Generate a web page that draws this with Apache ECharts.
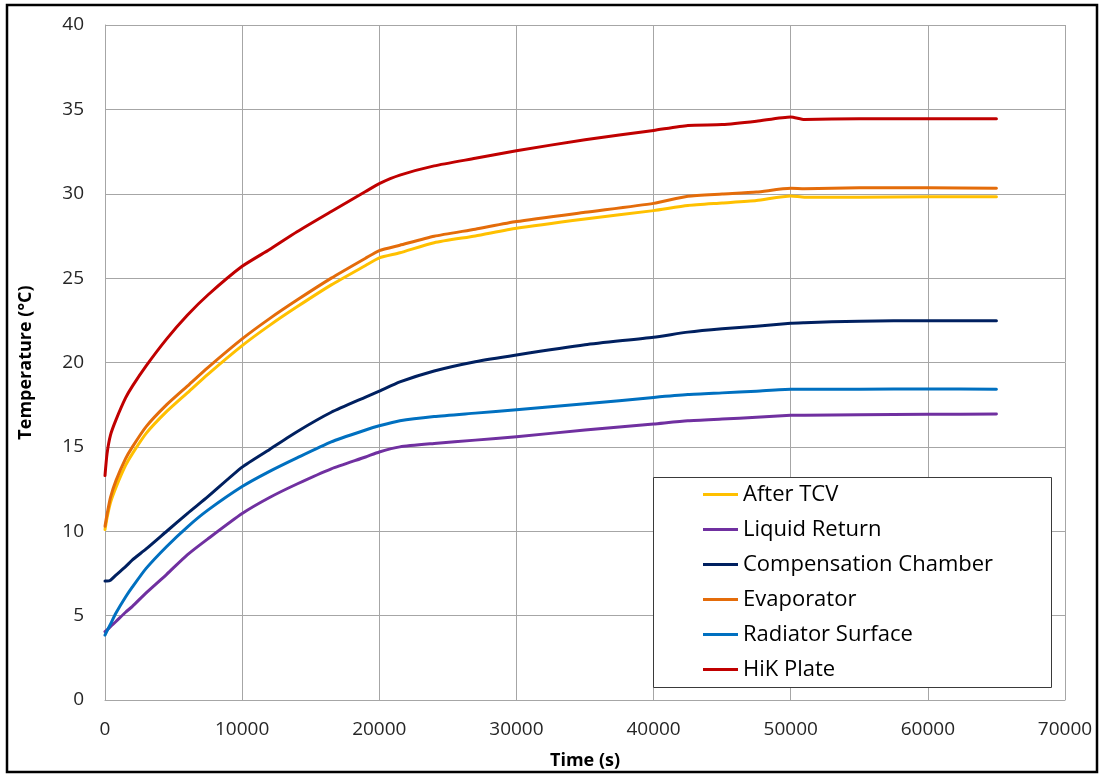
<!DOCTYPE html>
<html>
<head>
<meta charset="utf-8">
<script src="https://cdn.jsdelivr.net/npm/echarts@6/dist/echarts.min.js"></script>
<style>
  html, body { margin: 0; padding: 0; background: #ffffff; }
  #chart { width: 1104px; height: 777px; }
</style>
</head>
<body>
<div id="chart"></div>
<script>
// Elapsed time of each sample (s)
const timeS = [0, 150, 400, 800, 1500, 2000, 3000, 4500, 6000, 7500,
  10000, 12000, 14000, 16500, 19000, 20000, 21500, 24000, 27000, 30000,
  35000, 40000, 42500, 45000, 47500, 50000, 51000, 55000, 60000, 65000];

// Temperatures (°C) at the sample times
const afterTCV = [10.1, 10.8, 11.7, 12.6, 13.9, 14.6, 15.8, 17.1, 18.2, 19.3,
  21.0, 22.2, 23.3, 24.6, 25.75, 26.2, 26.5, 27.1, 27.5, 27.95,
  28.5, 29.0, 29.3, 29.45, 29.6, 29.87, 29.8, 29.8, 29.82, 29.82];
const liquidReturn = [4.05, 4.15, 4.35, 4.65, 5.2, 5.55, 6.35, 7.45, 8.6, 9.55,
  11.05, 12.0, 12.8, 13.7, 14.4, 14.7, 15.0, 15.2, 15.4, 15.6,
  16.0, 16.36, 16.55, 16.65, 16.75, 16.87, 16.88, 16.9, 16.93, 16.95];
const compChamber = [7.05, 7.05, 7.1, 7.4, 7.9, 8.3, 8.95, 10.0, 11.05, 12.05,
  13.8, 14.85, 15.9, 17.05, 17.95, 18.3, 18.85, 19.5, 20.05, 20.45,
  21.05, 21.5, 21.8, 22.0, 22.15, 22.33, 22.36, 22.45, 22.48, 22.48];
const evaporator = [10.3, 11.0, 12.0, 13.0, 14.3, 15.0, 16.2, 17.5, 18.6, 19.7,
  21.4, 22.6, 23.7, 25.0, 26.18, 26.63, 26.95, 27.48, 27.9, 28.35,
  28.9, 29.43, 29.85, 29.98, 30.1, 30.32, 30.3, 30.35, 30.35, 30.32];
const radiatorSurface = [3.85, 4.1, 4.5, 5.15, 6.1, 6.7, 7.8, 9.1, 10.25, 11.25,
  12.65, 13.55, 14.35, 15.3, 16.0, 16.25, 16.55, 16.8, 17.0, 17.2,
  17.55, 17.93, 18.1, 18.2, 18.3, 18.42, 18.42, 18.42, 18.43, 18.42];
const hikPlate = [13.3, 14.6, 15.7, 16.6, 17.9, 18.6, 19.8, 21.4, 22.8, 24.0,
  25.7, 26.7, 27.75, 28.95, 30.13, 30.6, 31.1, 31.65, 32.1, 32.55,
  33.2, 33.75, 34.05, 34.1, 34.3, 34.55, 34.4, 34.45, 34.45, 34.45];

const seriesNames = ['After TCV', 'Liquid Return', 'Compensation Chamber',
  'Evaporator', 'Radiator Surface', 'HiK Plate'];
const seriesValues = [afterTCV, liquidReturn, compChamber, evaporator, radiatorSurface, hikPlate];
const seriesColors = ['#FFC000', '#7030A0', '#002060', '#E46C0A', '#0070C0', '#C00000'];

const FONT = '"Open Sans", "Noto Sans", sans-serif';
const GRID_COLOR = '#a6a6a6';

const chart = echarts.init(document.getElementById('chart'), null, { renderer: 'canvas' });

chart.setOption({
  animation: false,
  backgroundColor: '#ffffff',
  textStyle: { fontFamily: FONT },
  grid: { left: 105, right: 39, top: 25, bottom: 77, containLabel: false },
  xAxis: {
    type: 'value',
    min: 0, max: 70000, interval: 10000,
    name: 'Time (s)',
    nameLocation: 'middle',
    nameGap: 52,
    nameTextStyle: { fontFamily: FONT, fontSize: 18, fontWeight: 'bold', color: '#000000' },
    axisLine: { show: true, lineStyle: { color: GRID_COLOR, width: 1 } },
    axisTick: { show: false },
    axisLabel: { fontFamily: FONT, fontSize: 19, color: '#262626', margin: 20,
      formatter: (v) => String(v) },
    splitLine: { show: true, lineStyle: { color: GRID_COLOR, width: 1 } }
  },
  yAxis: {
    type: 'value',
    min: 0, max: 40, interval: 5,
    name: 'Temperature (°C)',
    nameLocation: 'middle',
    nameGap: 70,
    nameTextStyle: { fontFamily: FONT, fontSize: 18, fontWeight: 'bold', color: '#000000' },
    axisLine: { show: true, lineStyle: { color: GRID_COLOR, width: 1 } },
    axisTick: { show: false },
    axisLabel: { fontFamily: FONT, fontSize: 19, color: '#262626', margin: 21 },
    splitLine: { show: true, lineStyle: { color: GRID_COLOR, width: 1 } }
  },
  legend: {
    orient: 'vertical',
    left: 703,
    top: 482,
    z: 20,
    itemWidth: 35,
    itemHeight: 3,
    itemGap: 10,
    icon: 'rect',
    padding: 0,
    textStyle: { fontFamily: FONT, fontSize: 22, color: '#000000', lineHeight: 25, padding: [0, 0, 0, 0] },
    data: seriesNames
  },
  graphic: [
    {
      type: 'rect', z: 10, silent: true,
      shape: { x: 653.5, y: 477.5, width: 398, height: 210 },
      style: { fill: '#ffffff', stroke: '#3a3a3a', lineWidth: 1 }
    },
    {
      type: 'rect', z: 30, silent: true,
      shape: { x: 7, y: 5, width: 1090, height: 767 },
      style: { fill: 'none', stroke: '#000000', lineWidth: 2.5 }
    }
  ],
  series: seriesNames.map((name, i) => ({
    name: name,
    type: 'line',
    showSymbol: false,
    symbol: 'none',
    smooth: 0.2,
    color: seriesColors[i],
    lineStyle: { width: 3, color: seriesColors[i], join: 'round', cap: 'round' },
    data: timeS.map((t, k) => [t, seriesValues[i][k]])
  }))
});
</script>
</body>
</html>
